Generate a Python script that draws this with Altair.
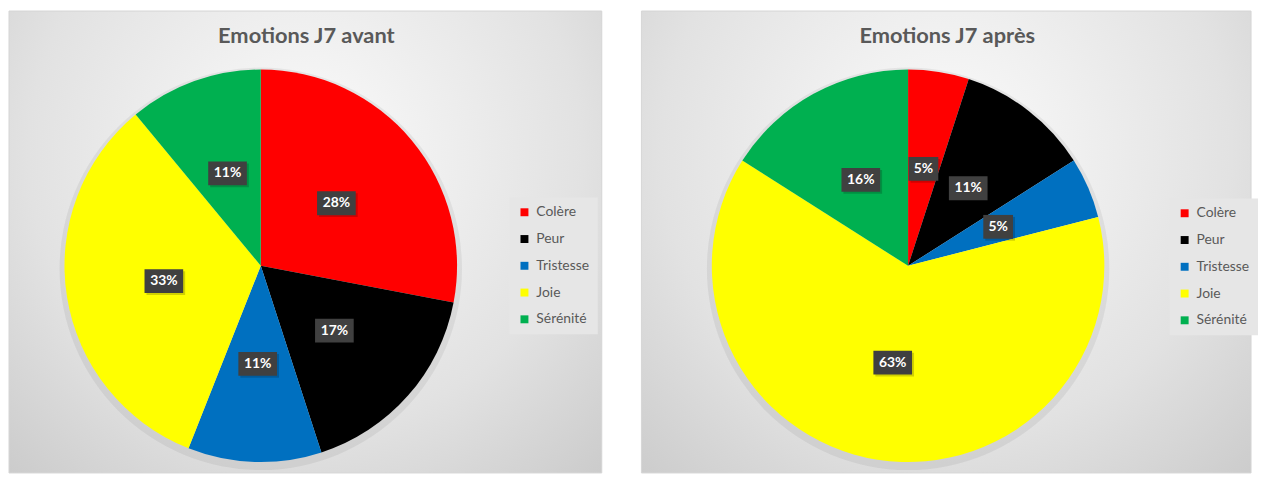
import altair as alt
import pandas as pd

emotions = ["Colère", "Peur", "Tristesse", "Joie", "Sérénité"]
colors = ["#FF0000", "#000000", "#0070C0", "#FFFF00", "#00B050"]
avant = [28, 17, 11, 33, 11]
apres = [5, 11, 5, 63, 16]
titles = ["Emotions J7 avant", "Emotions J7 après"]

H = 466
R = 198
FONT = "Lato"

grad = alt.RadialGradient(
    gradient="radial",
    stops=[alt.GradientStop(offset=0, color="#fbfbfb"),
           alt.GradientStop(offset=0.55, color="#e2e2e2"),
           alt.GradientStop(offset=1, color="#c2c2c2")],
    x1=0.5, y1=0.35, r1=0, x2=0.5, y2=0.35, r2=0.85)


def panel(values, title, W, cx, cy, legx, legy):
    df = pd.DataFrame({"emotion": emotions, "idx": list(range(len(emotions))),
                       "value": values, "label": [f"{v}%" for v in values]})
    tdf = pd.DataFrame({"t": [title]})
    bg = alt.Chart(tdf).mark_rect(fill=grad, stroke="#d6d6d6", strokeWidth=1).encode(
        x=alt.value(0), x2=alt.value(W), y=alt.value(0), y2=alt.value(H))
    ttl = alt.Chart(tdf).mark_text(font=FONT, fontSize=22, fontWeight="bold", color="#595959",
                                   baseline="middle", align="center").encode(
        text="t:N", x=alt.value(W / 2 + 1), y=alt.value(25))
    shadow = alt.Chart(tdf).mark_arc(radius=R + 5, theta=0, theta2=6.2832, color="#000000",
                                     opacity=0.06).encode(x=alt.value(cx), y=alt.value(cy + 3))
    pie = alt.Chart(df).mark_arc(radius=R).encode(
        theta=alt.Theta("value:Q", stack=True),
        order=alt.Order("idx:Q"),
        color=alt.Color("emotion:N",
                        scale=alt.Scale(domain=emotions, range=colors),
                        legend=alt.Legend(orient="none", legendX=legx, legendY=legy, title=None,
                                          symbolType="square", symbolSize=64, symbolStrokeWidth=0,
                                          symbolOpacity=1, labelFont=FONT, labelFontSize=14,
                                          labelColor="#595959", rowPadding=13, padding=8,
                                          labelOffset=5, fillColor="#e6e6e6", offset=0)),
        x=alt.value(cx), y=alt.value(cy))
    base = alt.Chart(df).transform_window(
        cum="sum(value)", sort=[{"field": "idx"}], frame=[None, 0]
    ).transform_joinaggregate(total="sum(value)").transform_calculate(
        mid=f"(datum.cum - datum.value/2)/datum.total*2*PI",
        lx=f"{cx} + {R/2}*sin(datum.mid)",
        ly=f"{cy} - {R/2}*cos(datum.mid)",
        bw="12 + 9*length(datum.label)",
        x1="datum.lx - datum.bw/2", x2="datum.lx + datum.bw/2",
        y1="datum.ly - 12", y2="datum.ly + 12",
        sx1="datum.x1 + 2", sx2="datum.x2 + 2", sy1="datum.y1 + 2", sy2="datum.y2 + 2",
    )
    bshadow = base.mark_rect(color="#000000", opacity=0.18).encode(
        x=alt.X("sx1:Q", scale=None, axis=None), x2="sx2:Q",
        y=alt.Y("sy1:Q", scale=None, axis=None), y2="sy2:Q")
    box = base.mark_rect(color="#404040").encode(
        x=alt.X("x1:Q", scale=None, axis=None), x2="x2:Q",
        y=alt.Y("y1:Q", scale=None, axis=None), y2="y2:Q")
    txt = base.mark_text(font=FONT, fontSize=14, fontWeight="bold", color="#ffffff",
                         baseline="middle", align="center").encode(
        x=alt.X("lx:Q", scale=None, axis=None), y=alt.Y("ly:Q", scale=None, axis=None),
        text="label:N")
    return alt.layer(bg, ttl, shadow, pie, bshadow, box, txt).properties(width=W, height=H)


left = panel(avant, titles[0], 598, 254, 257, 505, 188)
right = panel(apres, titles[1], 615, 269, 257, 533, 189)

chart = alt.hconcat(left, right, spacing=38).resolve_legend(color="independent").properties(
    padding=0, background="#ffffff").configure_view(stroke=None)

chart.save("out.html", embed_options={"renderer": "svg", "actions": False})
